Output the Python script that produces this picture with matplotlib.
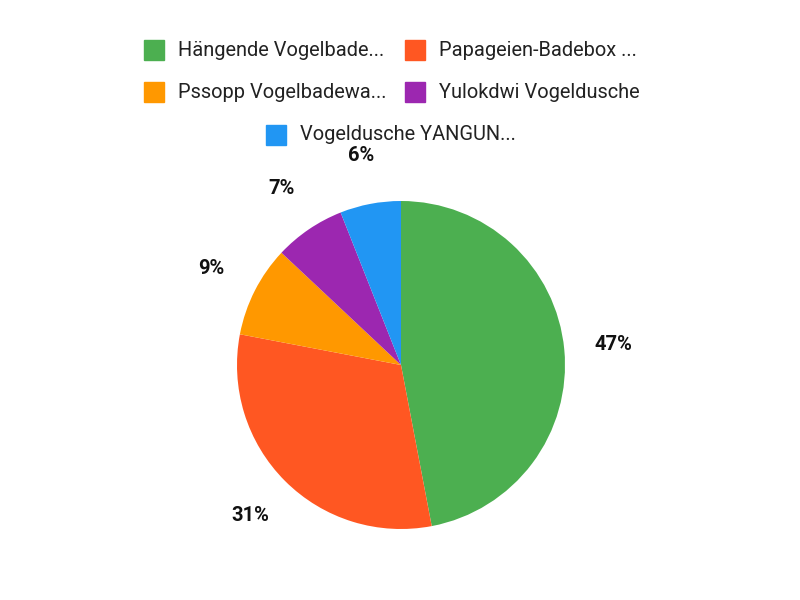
import numpy as np
import matplotlib.pyplot as plt
from matplotlib.patches import Rectangle

plt.rcParams['font.family'] = ['Roboto', 'DejaVu Sans']

labels = ['Hängende Vogelbade...', 'Papageien-Badebox ...', 'Pssopp Vogelbadewa...',
          'Yulokdwi Vogeldusche', 'Vogeldusche YANGUN...']
shares = [47, 31, 9, 7, 6]
colors = ['#4CAF50', '#FF5722', '#FF9800', '#9C27B0', '#2196F3']

fig = plt.figure(figsize=(8, 6), dpi=100)
ax = fig.add_axes([0, 0, 1, 1])
ax.set_xlim(0, 800)
ax.set_ylim(0, 600)
ax.set_aspect('equal')

wedges, texts = ax.pie(shares, colors=colors, startangle=90, counterclock=False,
                       center=(401, 235), radius=164, frame=True)
ax.axis('off')

# percentage labels outside the slices
total = sum(shares)
ang = 90.0
for s in shares:
    mid = ang - s / total * 180
    ang -= s / total * 360
    r = 164 * 1.3
    x = 401 + r * np.cos(np.radians(mid))
    y = 235 + r * np.sin(np.radians(mid))
    ax.text(x, y, f'{s}%', ha='center', va='center', fontsize=14.5,
            fontweight='bold', color='#111111')

# legend, rows centred like the original
pos = [(144, 50), (405, 50), (144, 92), (405, 92), (266, 135)]
for (px, py), lab, c in zip(pos, labels, colors):
    ax.add_patch(Rectangle((px, 600 - py - 10), 20, 20, color=c))
    ax.text(px + 34, 600 - py, lab, ha='left', va='center', fontsize=14.4,
            color='#222222')

fig.savefig('out.png', dpi=100)
